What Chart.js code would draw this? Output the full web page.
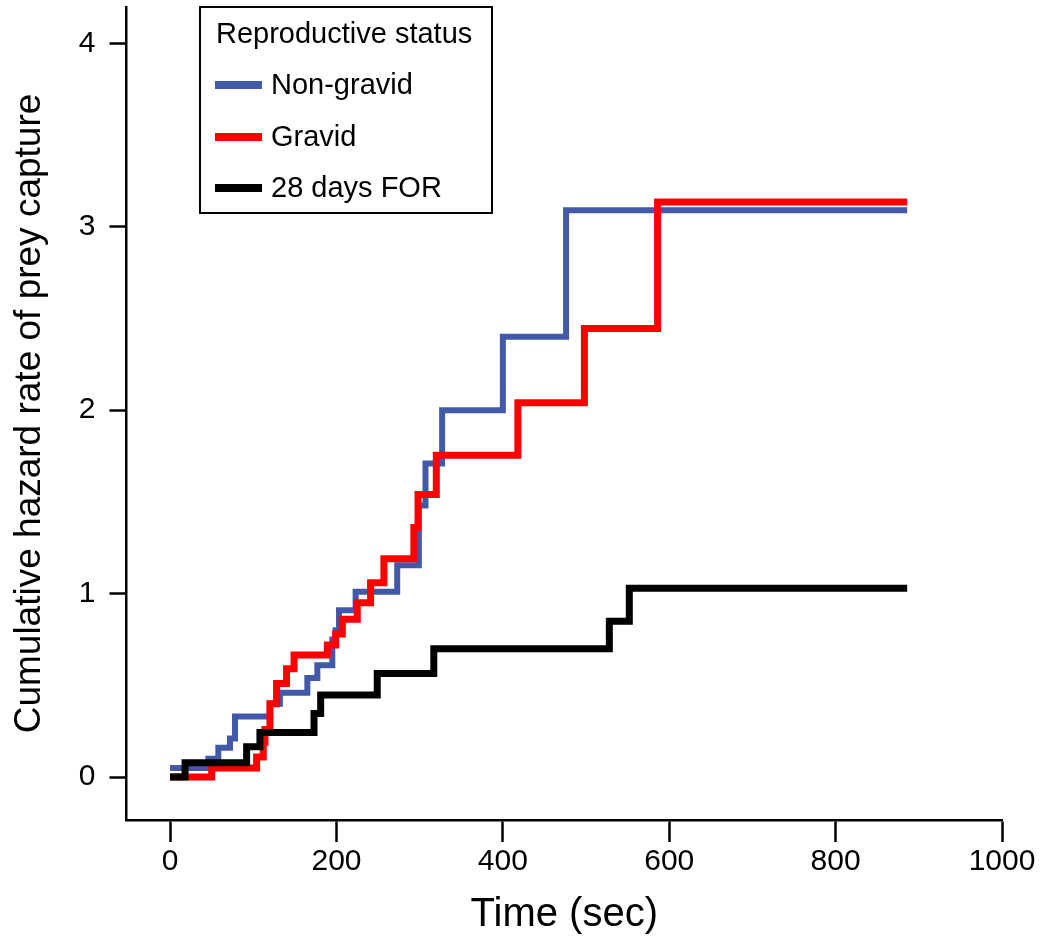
<!DOCTYPE html>
<html>
<head>
<meta charset="utf-8">
<script src="https://cdn.jsdelivr.net/npm/chart.js@4.4.1/dist/chart.umd.min.js"></script>
<style>
  html, body { margin: 0; padding: 0; background: #fff; }
  #wrap { width: 1040px; height: 945px; position: relative; }
</style>
</head>
<body>
<div id="wrap"><canvas id="hazardChart"></canvas></div>
<script>
// cumulative hazard step data (time in sec)
const seriesLabels = ['Non-gravid', 'Gravid', '28 days FOR'];
const seriesColors = ['#4159a8', '#ff0000', '#000000'];

const timesNonGravid = [0, 46, 58, 72, 78, 120, 132, 165, 177, 195, 199, 203, 223, 273, 299, 307, 327, 400, 476, 886];
const hazardNonGravid = [0.05, 0.10, 0.16, 0.21, 0.33, 0.40, 0.46, 0.54, 0.61, 0.75, 0.80, 0.91, 1.01, 1.155, 1.48, 1.71, 2.00, 2.40, 3.09, 3.09];

const timesGravid = [0, 50, 104, 112, 114, 120, 128, 140, 149, 189, 199, 207, 225, 241, 257, 293, 298, 320, 418, 498, 586, 886];
const hazardGravid = [0, 0.05, 0.11, 0.19, 0.26, 0.40, 0.51, 0.59, 0.665, 0.72, 0.78, 0.86, 0.95, 1.06, 1.19, 1.36, 1.54, 1.755, 2.04, 2.445, 3.135, 3.135];

const timesFOR = [0, 18, 92, 108, 173, 181, 249, 317, 528, 552, 886];
const hazardFOR = [0, 0.078, 0.165, 0.243, 0.347, 0.447, 0.565, 0.70, 0.85, 1.03, 1.03];

const xTicks = [0, 200, 400, 600, 800, 1000];
const yTicks = [0, 1, 2, 3, 4];

const FONT = "'Liberation Sans', Arial, Helvetica, sans-serif";

const toPoints = (xs, ys) => xs.map((x, i) => ({ x: x, y: ys[i] }));

const stepSet = (i, xs, ys, width, order) => ({
  label: seriesLabels[i],
  data: toPoints(xs, ys),
  borderColor: seriesColors[i],
  backgroundColor: seriesColors[i],
  borderWidth: width,
  stepped: 'before',
  pointRadius: 0,
  fill: false,
  borderCapStyle: 'butt',
  borderJoinStyle: 'miter',
  order: order
});

// boxed legend like the R original
const boxLegend = {
  id: 'boxLegend',
  afterDraw(chart) {
    const ctx = chart.ctx;
    const rows = [85, 137, 188];
    ctx.save();
    ctx.strokeStyle = '#000';
    ctx.lineWidth = 2;
    ctx.strokeRect(200, 7, 292, 206);
    ctx.fillStyle = '#000';
    ctx.font = '29px ' + FONT;
    ctx.textBaseline = 'middle';
    ctx.textAlign = 'left';
    ctx.fillText('Reproductive status', 216, 35);
    seriesLabels.forEach((lab, i) => {
      ctx.strokeStyle = seriesColors[i];
      ctx.lineWidth = 8;
      ctx.beginPath();
      ctx.moveTo(215, rows[i]);
      ctx.lineTo(262, rows[i]);
      ctx.stroke();
      ctx.fillText(lab, 271, rows[i] + 1);
    });
    ctx.restore();
  }
};

new Chart(document.getElementById('hazardChart'), {
  type: 'line',
  data: {
    datasets: [
      stepSet(0, timesNonGravid, hazardNonGravid, 6, 3),
      stepSet(1, timesGravid, hazardGravid, 7, 2),
      stepSet(2, timesFOR, hazardFOR, 7, 1)
    ]
  },
  options: {
    responsive: true,
    maintainAspectRatio: false,
    animation: false,
    layout: { padding: { top: 7, right: 38, left: 0, bottom: 0 } },
    plugins: {
      legend: { display: false },
      tooltip: { enabled: false }
    },
    scales: {
      x: {
        type: 'linear',
        min: -52.4,
        max: 1000,
        afterBuildTicks: (s) => { s.ticks = xTicks.map(v => ({ value: v })); },
        afterFit: (s) => { s.height = 125; s.paddingLeft = 0; s.paddingRight = 0; },
        border: { display: true, color: '#000', width: 2.5 },
        grid: { display: true, drawOnChartArea: false, drawTicks: true, tickLength: 22, tickWidth: 2.5, tickColor: '#000' },
        ticks: { color: '#000', padding: 2, maxRotation: 0, callback: (v) => String(v), font: { family: FONT, size: 30 } },
        title: { display: true, text: 'Time (sec)', color: '#000', padding: { top: 0, bottom: 6 }, font: { family: FONT, size: 40 } }
      },
      y: {
        type: 'linear',
        min: -0.234,
        max: 4.198,
        afterBuildTicks: (s) => { s.ticks = yTicks.map(v => ({ value: v })); },
        afterFit: (s) => { s.width = 126.5; s.paddingTop = 0; s.paddingBottom = 0; },
        border: { display: true, color: '#000', width: 2.5 },
        grid: { display: true, drawOnChartArea: false, drawTicks: true, tickLength: 17, tickWidth: 2.5, tickColor: '#000' },
        ticks: { color: '#000', padding: 14, font: { family: FONT, size: 30 } },
        title: { display: true, text: 'Cumulative hazard rate of prey capture', color: '#000', padding: { top: 8, bottom: 0 }, font: { family: FONT, size: 37 } }
      }
    }
  },
  plugins: [boxLegend]
});
</script>
</body>
</html>
